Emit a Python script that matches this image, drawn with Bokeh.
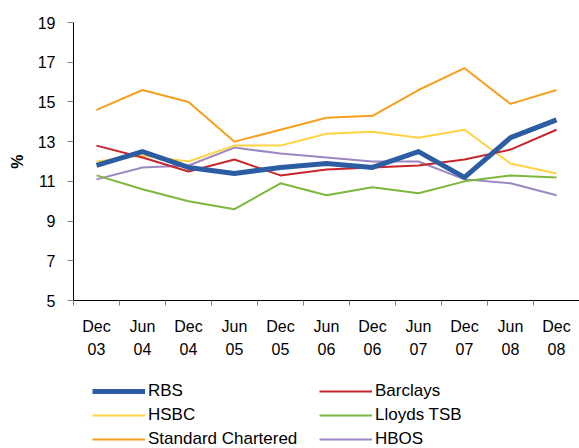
from bokeh.plotting import figure
from bokeh.layouts import column
from bokeh.models import Range1d, FixedTicker, Legend, LegendItem
from bokeh.embed import file_html
from bokeh.resources import INLINE

periods = ["Dec\n03", "Jun\n04", "Dec\n04", "Jun\n05", "Dec\n05", "Jun\n06",
           "Dec\n06", "Jun\n07", "Dec\n07", "Jun\n08", "Dec\n08"]
rbs = [11.8, 12.5, 11.7, 11.4, 11.7, 11.9, 11.7, 12.5, 11.2, 13.2, 14.1]
barclays = [12.8, 12.2, 11.5, 12.1, 11.3, 11.6, 11.7, 11.8, 12.1, 12.6, 13.6]
hsbc = [12.0, 12.3, 12.0, 12.8, 12.8, 13.4, 13.5, 13.2, 13.6, 11.9, 11.4]
lloyds = [11.3, 10.6, 10.0, 9.6, 10.9, 10.3, 10.7, 10.4, 11.0, 11.3, 11.2]
standard_chartered = [14.6, 15.6, 15.0, 13.0, 13.6, 14.2, 14.3, 15.6, 16.7, 14.9, 15.6]
hbos = [11.1, 11.7, 11.8, 12.7, 12.4, 12.2, 12.0, 12.0, 11.1, 10.9, 10.3]
y_ticks = [5, 7, 9, 11, 13, 15, 17, 19]

FONT = "Liberation Sans"
n = len(periods)
xs = [i + 0.5 for i in range(n)]

TOP_H = 372
p = figure(width=579, height=TOP_H, output_backend="svg", toolbar_location=None,
           x_range=Range1d(0, n), y_range=Range1d(5, 19),
           min_border_left=73, min_border_right=0, min_border_top=22,
           min_border_bottom=TOP_H - 300)
p.outline_line_color = None
p.xgrid.visible = False
p.ygrid.visible = False

# x axis: labels centred in each period, tick marks at period boundaries
xa = p.xaxis[0]
xa.ticker = FixedTicker(ticks=xs, minor_ticks=list(range(n + 1)))
xa.major_label_overrides = {x: lab for x, lab in zip(xs, periods)}
xa.major_tick_out = 0
xa.major_tick_in = 0
xa.major_tick_line_color = None
xa.minor_tick_out = 5
xa.minor_tick_in = 0
xa.minor_tick_line_color = "#808080"
xa.axis_line_color = "black"
xa.major_label_text_font = FONT
xa.major_label_text_font_size = "16px"
xa.major_label_text_color = "black"
xa.major_label_text_line_height = 1.4
xa.major_label_standoff = 12

# y axis
ya = p.yaxis[0]
ya.ticker = FixedTicker(ticks=y_ticks)
ya.minor_tick_line_color = None
ya.major_tick_out = 6
ya.major_tick_in = 0
ya.major_tick_line_color = "#808080"
ya.axis_line_color = "black"
ya.major_label_text_font = FONT
ya.major_label_text_font_size = "16px"
ya.major_label_text_color = "black"
ya.major_label_standoff = 12
ya.axis_label = "%"
ya.axis_label_text_font = FONT
ya.axis_label_text_font_size = "16px"
ya.axis_label_text_font_style = "bold"
ya.axis_label_text_color = "black"
ya.axis_label_standoff = 9

series = [
    ("RBS", rbs, "#2C5DA3", 5),
    ("Barclays", barclays, "#C9252C", 2),
    ("HSBC", hsbc, "#FFD240", 2),
    ("Lloyds TSB", lloyds, "#7DB83C", 2),
    ("Standard Chartered", standard_chartered, "#F5A01E", 2),
    ("HBOS", hbos, "#9B88C2", 2),
]

for name, vals, col, lw in reversed(series):
    p.line(xs, vals, line_color=col, line_width=lw, line_join="round")

# legend strip below the chart (its series lie outside its visible range)
LEG_H = 448 - TOP_H
q = figure(width=579, height=LEG_H, output_backend="svg", toolbar_location=None,
           x_range=Range1d(0, n), y_range=Range1d(0, 1),
           min_border_left=73, min_border_right=0, min_border_top=0, min_border_bottom=0)
q.axis.visible = False
q.grid.visible = False
q.outline_line_color = None

key = {}
for name, vals, col, lw in series:
    key[name] = q.line(xs, vals, line_color=col, line_width=lw)


def make_legend(names, vx, vy):
    leg = Legend(items=[LegendItem(label=nm, renderers=[key[nm]]) for nm in names],
                 location=(vx, vy), orientation="vertical")
    leg.background_fill_alpha = 0
    leg.border_line_color = None
    leg.padding = 0
    leg.margin = 0
    leg.spacing = 4
    leg.glyph_width = 53
    leg.glyph_height = 20
    leg.label_height = 20
    leg.label_standoff = 3
    leg.label_text_font = FONT
    leg.label_text_font_size = "17px"
    leg.label_text_color = "black"
    return leg


q.add_layout(make_legend(["RBS", "HSBC", "Standard Chartered"], 19, -1), "center")
q.add_layout(make_legend(["Barclays", "Lloyds TSB", "HBOS"], 246, -1), "center")

layout = column(p, q, spacing=0)
open("out.html", "w").write(file_html(layout, INLINE))
